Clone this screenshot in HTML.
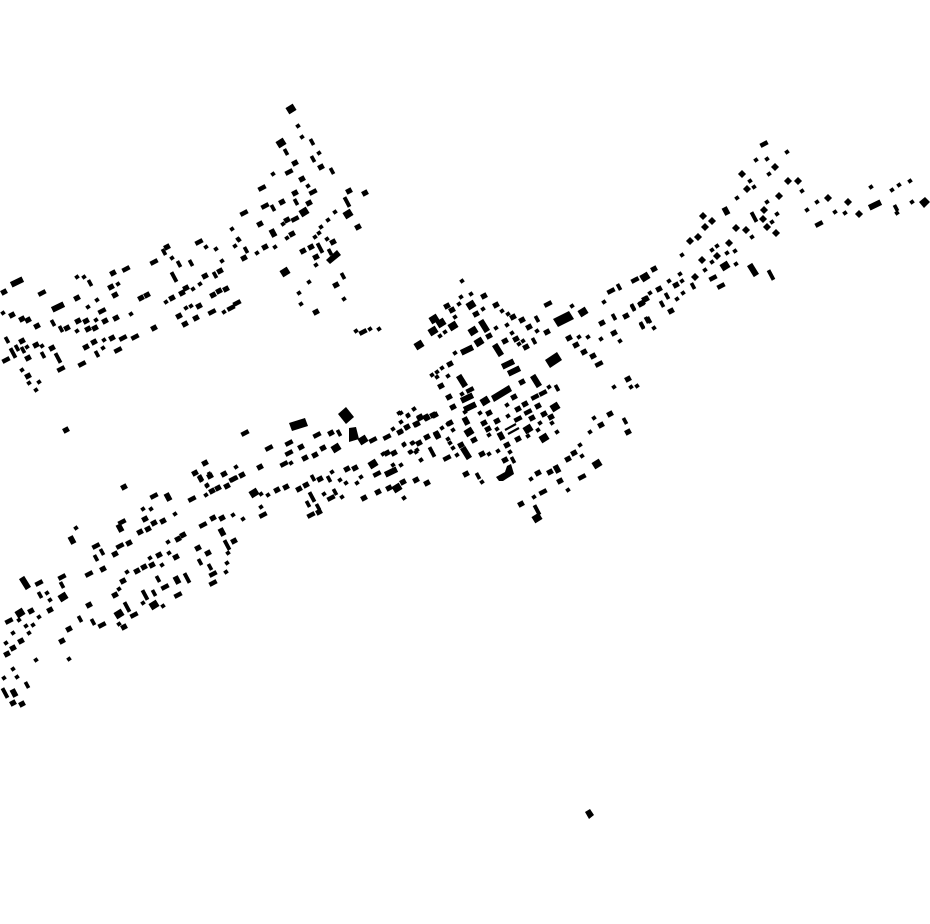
<!DOCTYPE html>
<html><head><meta charset="utf-8"><title>Figure-ground map</title>
<style>
html,body{margin:0;padding:0;background:#fff}
svg{display:block}
polyline{fill:none;stroke:none}
marker rect{stroke:#000;stroke-width:.9}
#t1{marker:url(#t)}#s1{marker:url(#s)}#m1{marker:url(#m)}#l1{marker:url(#l)}#p1{marker:url(#p)}#q1{marker:url(#q)}#P1{marker:url(#P)}#Q1{marker:url(#Q)}#B1{marker:url(#B)}#D1{marker:url(#D)}
</style></head><body>
<svg xmlns="http://www.w3.org/2000/svg" width="930" height="924" viewBox="0 0 930 924">
<defs>
<marker id="t" markerUnits="userSpaceOnUse" markerWidth="20" markerHeight="20" overflow="visible"><rect x="-1.6" y="-1.5" width="3.2" height="3" transform="rotate(-35)"/></marker>
<marker id="s" markerUnits="userSpaceOnUse" markerWidth="20" markerHeight="20" overflow="visible"><rect x="-2.6" y="-2.2" width="5.2" height="4.4" transform="rotate(-28)"/></marker>
<marker id="m" markerUnits="userSpaceOnUse" markerWidth="20" markerHeight="20" overflow="visible"><rect x="-3.6" y="-1.8" width="7.2" height="3.6" transform="rotate(-28)"/></marker>
<marker id="l" markerUnits="userSpaceOnUse" markerWidth="20" markerHeight="20" overflow="visible"><rect x="-6" y="-2.5" width="12" height="5" transform="rotate(-26)"/></marker>
<marker id="p" markerUnits="userSpaceOnUse" markerWidth="20" markerHeight="20" overflow="visible"><rect x="-3" y="-1.4" width="6" height="2.8" transform="rotate(62)"/></marker>
<marker id="q" markerUnits="userSpaceOnUse" markerWidth="20" markerHeight="20" overflow="visible"><rect x="-5" y="-1.5" width="10" height="3" transform="rotate(62)"/></marker>
<marker id="P" markerUnits="userSpaceOnUse" markerWidth="20" markerHeight="20" overflow="visible"><rect x="-3.6" y="-2.4" width="7.2" height="4.8" transform="rotate(62)"/></marker>
<marker id="Q" markerUnits="userSpaceOnUse" markerWidth="20" markerHeight="20" overflow="visible"><rect x="-6" y="-2.6" width="12" height="5.2" transform="rotate(58)"/></marker>
<marker id="B" markerUnits="userSpaceOnUse" markerWidth="20" markerHeight="20" overflow="visible"><rect x="-3.8" y="-3.2" width="7.6" height="6.4" transform="rotate(-32)"/></marker>
<marker id="D" markerUnits="userSpaceOnUse" markerWidth="20" markerHeight="20" overflow="visible"><rect x="-2.4" y="-2.4" width="4.8" height="4.8" transform="rotate(45)"/></marker>
</defs>
<polyline id="t1" points="3,313 97,300 88,307 96,320 131,314 77,331 166,302 193,289 200,284 186,308 191,306 224,312 172,258 206,247 216,249 222,261 232,229 235,246 239,240 77,277 84,277 27,347 42,346 104,340 103,348 22,370 29,383 39,382 36,390 118,284 298,126 302,137 319,153 308,186 273,174 335,212 328,220 321,227 319,233 315,237 327,239 283,224 287,238 238,239 275,247 257,253 316,265 309,282 344,299 299,293 301,304 356,331 370,329 379,329 462,281 461,297 471,294 459,304 455,317 483,309 502,311 508,314 537,331 572,306 445,332 440,336 496,328 455,353 507,325 512,333 523,341 519,344 579,337 588,337 601,339 604,302 620,341 432,375 437,377 442,368 437,372 448,376 462,394 465,412 549,387 507,405 508,416 480,413 453,430 442,428 414,409 408,416 401,413 401,431 413,443 404,444 416,452 410,452 421,460 457,455 453,448 448,439 450,443 489,435 497,429 510,452 489,454 498,451 528,436 538,430 540,423 552,423 557,432 482,482 404,498 531,479 580,445 582,456 568,490 534,497 594,418 590,432 614,387 631,387 637,386 787,152 767,159 756,160 769,174 750,181 754,187 802,191 737,198 767,202 777,214 772,222 752,237 717,246 712,250 727,253 735,251 712,262 736,264 705,270 682,255 807,210 817,202 835,212 845,213 871,187 892,190 899,185 910,181 897,213 912,202 680,274 669,281 682,281 683,293 677,299 650,293 654,328 393,429 407,428 401,422 399,413 408,415 414,409 404,445 412,443 448,424 411,452 417,450 421,460 383,454 393,465 401,465 332,472 340,480 346,483 357,483 361,477 261,494 268,495 324,494 342,497 404,498 261,507 243,519 233,515 236,467 291,463 206,495 207,486 76,528 143,509 151,509 175,514 39,617 47,593 50,600 19,620 26,626 33,625 29,633 13,633 36,660 69,659 119,624 13,669 4,678 17,677 119,589 127,572 150,558 162,565 168,542 169,553 228,553 227,563 226,572 163,606 143,603 207,485 6,643"/>
<polyline id="s1" points="4,292 12,315 22,319 28,320 37,326 77,298 78,321 86,321 105,321 116,318 154,328 141,298 147,295 172,298 182,293 186,288 205,276 220,271 213,295 219,291 226,289 179,316 199,306 185,324 196,318 113,273 111,287 115,295 67,328 88,329 95,328 22,341 28,358 36,345 52,348 86,347 94,342 112,338 28,376 167,247 321,167 295,163 302,179 295,193 349,191 365,193 358,227 333,242 309,203 282,202 260,224 287,220 292,234 265,247 244,258 303,251 311,247 316,257 336,285 316,312 484,296 447,306 452,310 476,314 496,305 513,317 522,320 529,327 547,332 489,336 505,341 516,339 526,347 569,338 576,345 584,352 593,356 602,323 626,316 642,303 646,299 614,333 450,364 441,386 449,397 453,407 522,382 514,397 525,404 538,406 518,409 544,414 551,417 532,418 489,413 497,421 484,423 450,423 433,415 426,417 420,417 416,424 407,427 427,437 419,443 461,445 474,440 488,429 507,445 482,454 505,460 518,439 466,474 403,482 416,480 427,483 538,473 550,472 560,481 568,459 574,453 521,504 601,425 610,414 628,432 628,379 654,269 659,289 645,299 641,304 671,311 676,285 205,463 331,433 301,447 323,448 315,455 305,458 260,467 224,474 242,475 227,486 218,488 212,491 400,432 417,424 420,418 427,418 435,415 437,435 387,453 394,453 347,469 355,468 320,479 277,490 286,487 299,489 306,485 364,498 378,492 389,488 319,512 222,518 213,518 124,487 145,519 154,523 163,521 148,529 140,532 129,543 115,554 103,569 31,611 50,610 21,641 13,648 7,654 62,641 69,629 89,605 124,627 13,703 22,704 115,595 123,581 137,571 144,567 152,565 159,555 178,539 183,535 176,557 198,548 208,553 234,541 195,473 210,476 66,430"/>
<polyline id="m1" points="42,293 102,311 126,269 154,262 199,242 212,312 231,308 237,303 6,360 61,369 82,364 123,338 135,337 118,350 289,172 262,188 313,192 265,206 244,213 295,219 363,332 548,304 599,364 611,291 635,280 470,390 543,393 535,397 528,412 518,419 447,458 543,492 582,477 764,144 713,278 721,286 819,224 245,433 317,435 289,443 269,448 289,453 284,464 234,479 373,440 387,437 377,474 331,498 311,515 263,515 203,525 154,496 120,546 96,546 89,574 39,583 62,577 9,621 102,625 134,615 213,574 213,583 165,587 178,595 192,499 233,479 122,522 644,276"/>
<polyline id="l1" points="17,282 58,307 467,350 467,398 470,407 875,205 391,472 508,364 514,371"/>
<polyline id="p1" points="53,323 61,329 7,340 17,348 23,350 43,355 215,275 179,264 191,263 90,283 97,354 164,252 312,142 313,159 332,171 286,152 296,202 273,208 246,250 330,252 343,276 537,319 534,341 619,287 614,317 633,308 642,325 647,320 557,388 478,476 513,460 625,421 896,208 693,286 667,296 662,304 633,307 649,320 642,326 339,433 313,478 329,479 335,492 308,504 318,507 210,475 200,479 201,478 62,585 40,595 80,619 93,622 27,685 102,552 96,558 200,562 210,567 158,579 154,593"/>
<polyline id="q1" points="13,353 58,358 174,277 347,202 320,248 432,452 537,510 771,275 754,217 127,607 312,497 5,693 187,578 145,595 227,545"/>
<polyline id="P1" points="72,540 168,497 14,693 437,435 466,421 501,436 557,469 726,211 222,532 177,580 273,233 120,528"/>
<polyline id="Q1" points="484,326 498,350 462,381 536,381 466,453 25,583 753,270"/>
<polyline id="B1" points="291,109 281,143 348,214 304,212 285,272 471,305 583,312 434,319 441,323 453,326 433,331 419,345 473,331 479,342 645,277 485,401 555,407 469,432 528,429 544,438 597,464 537,518 725,266 363,440 336,448 373,464 397,488 254,493 63,597 20,613 119,614 154,605"/>
<polyline id="D1" points="775,167 742,174 747,189 788,181 798,181 779,196 764,210 763,219 767,227 776,233 703,216 712,221 705,227 698,237 690,241 736,228 746,230 729,243 717,256 702,260 695,277 828,198 848,202 859,214"/>
<g>
<polygon points="289,423 305,418 308,426 292,431"/>
<polygon points="338,414 346,407 354,417 346,424"/>
<polygon points="349,428 356,427 359,439 349,442"/>
<polygon points="545,360 557,352 562,360 550,368"/>
<polygon points="553,319 569,311 574,319 558,327"/>
<polygon points="491,396 509,385 512,391 494,402"/>
<polygon points="326,260 337,250 341,255 330,264"/>
<polygon points="585,812 590,809 594,815 589,819"/>
<polygon points="919,202 925,197 930,202 924,208"/>
<polygon points="496,477 505,472 507,466 511,464 514,474 503,481 499,481"/>
<path d="M505 430L516 424M508 434L519 428" stroke="#000" stroke-width="2.2" fill="none"/>
</g>
</svg>
</body></html>
